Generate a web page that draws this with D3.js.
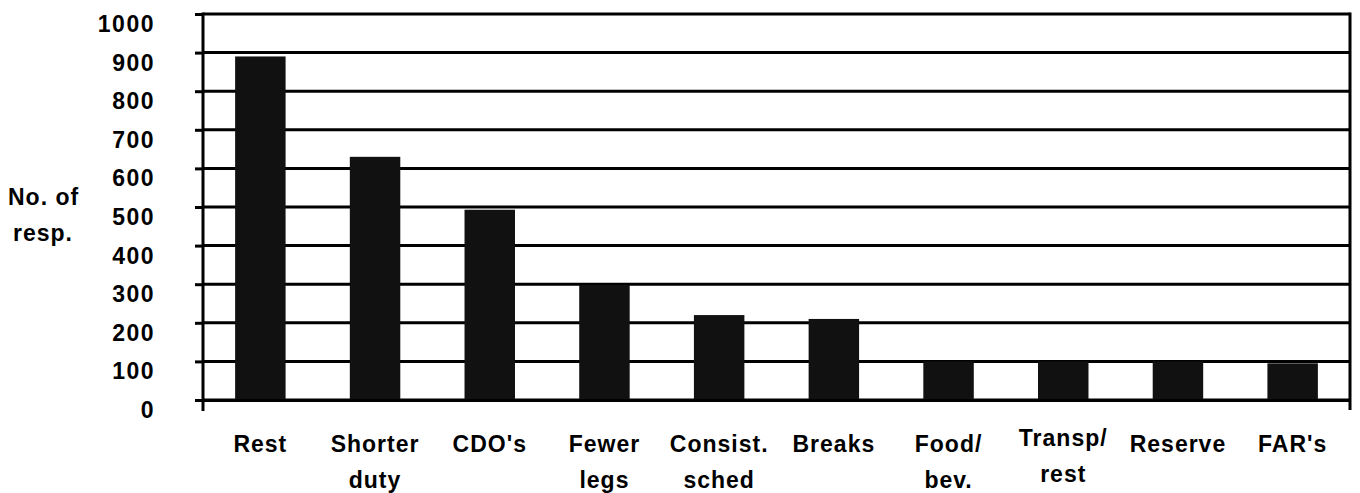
<!DOCTYPE html>
<html>
<head>
<meta charset="utf-8">
<title>No. of resp.</title>
<style>
  body { margin: 0; background: #fff; }
  svg text { font-family: "Liberation Sans", Arial, Helvetica, sans-serif; font-weight: bold; fill: #000; }
</style>
</head>
<body>
<div id="chart"></div>
<script src="https://cdn.jsdelivr.net/npm/d3@7"></script>
<script>
// chart data
var categories = ["Rest", "Shorter duty", "CDO's", "Fewer legs", "Consist. sched",
                  "Breaks", "Food/ bev.", "Transp/ rest", "Reserve", "FAR's"];
var labelLines = [["Rest"], ["Shorter", "duty"], ["CDO's"], ["Fewer", "legs"], ["Consist.", "sched"],
                  ["Breaks"], ["Food/", "bev."], ["Transp/", "rest"], ["Reserve"], ["FAR's"]];
var responses = [890, 630, 493, 298, 220, 210, 100, 100, 100, 95];
var yTicks = [0, 100, 200, 300, 400, 500, 600, 700, 800, 900, 1000];
var yTitle = ["No. of", "resp."];

var width = 1360, height = 493;
var plotLeft = 203, plotRight = 1350, plotTop = 14, plotBottom = 400;

var svg = d3.select("#chart").append("svg")
    .attr("width", width)
    .attr("height", height);

var x = d3.scaleBand()
    .domain(categories)
    .range([plotLeft, plotRight])
    .paddingInner(0.56)
    .paddingOuter(0.28);

var y = d3.scaleLinear()
    .domain([0, 1000])
    .range([plotBottom, plotTop]);

// gridlines
svg.append("g")
  .selectAll("line")
  .data(yTicks)
  .join("line")
    .attr("x1", plotLeft)
    .attr("x2", plotRight)
    .attr("y1", function(d) { return y(d); })
    .attr("y2", function(d) { return y(d); })
    .attr("stroke", "#000")
    .attr("stroke-width", 3);

// right frame
svg.append("line")
    .attr("x1", plotRight).attr("x2", plotRight)
    .attr("y1", y(1000) - 1.5).attr("y2", plotBottom + 10)
    .attr("stroke", "#000")
    .attr("stroke-width", 3);

// bars
svg.append("g")
  .selectAll("rect")
  .data(responses)
  .join("rect")
    .attr("x", function(d, i) { return x(categories[i]); })
    .attr("width", x.bandwidth())
    .attr("y", function(d) { return y(d); })
    .attr("height", function(d) { return y(0) - y(d); })
    .attr("fill", "#111");

// y axis
var yAxis = svg.append("g")
    .attr("transform", "translate(" + plotLeft + ",0)")
    .call(d3.axisLeft(y).tickValues(yTicks).tickFormat(d3.format("d"))
      .tickSizeInner(8).tickSizeOuter(0).tickPadding(40));

yAxis.select(".domain").remove();
yAxis.selectAll(".tick line").attr("stroke", "#000").attr("stroke-width", 3);
yAxis.selectAll(".tick text")
    .attr("dy", "17.5px")
    .attr("font-size", "23px")
    .attr("font-family", null)
    .attr("letter-spacing", "1.5px");

svg.append("line")
    .attr("x1", plotLeft).attr("x2", plotLeft)
    .attr("y1", plotTop - 1.5).attr("y2", plotBottom + 11)
    .attr("stroke", "#000")
    .attr("stroke-width", 3);

// x axis
var xAxis = svg.append("g")
    .attr("transform", "translate(0," + plotBottom + ")")
    .call(d3.axisBottom(x).tickSizeInner(0).tickSizeOuter(0));

xAxis.select(".domain").attr("stroke", "#000").attr("stroke-width", 3);
xAxis.selectAll(".tick text").remove();

xAxis.selectAll(".tick").each(function(d, i) {
  var shift = d === "Transp/ rest" ? -6 : 0;
  var t = d3.select(this).append("text")
      .attr("text-anchor", "middle")
      .attr("font-size", "23px")
      .attr("letter-spacing", "1px")
      .attr("fill", "#000");
  labelLines[i].forEach(function(line, k) {
    t.append("tspan")
        .attr("x", 0)
        .attr("y", 52 + shift + k * 36)
        .text(line);
  });
});

// y title
var title = svg.append("text")
    .attr("font-size", "23px")
    .attr("letter-spacing", "1px");
yTitle.forEach(function(line, k) {
  title.append("tspan")
      .attr("x", k === 0 ? 8 : 13)
      .attr("y", 205 + k * 36)
      .text(line);
});
</script>
</body>
</html>
